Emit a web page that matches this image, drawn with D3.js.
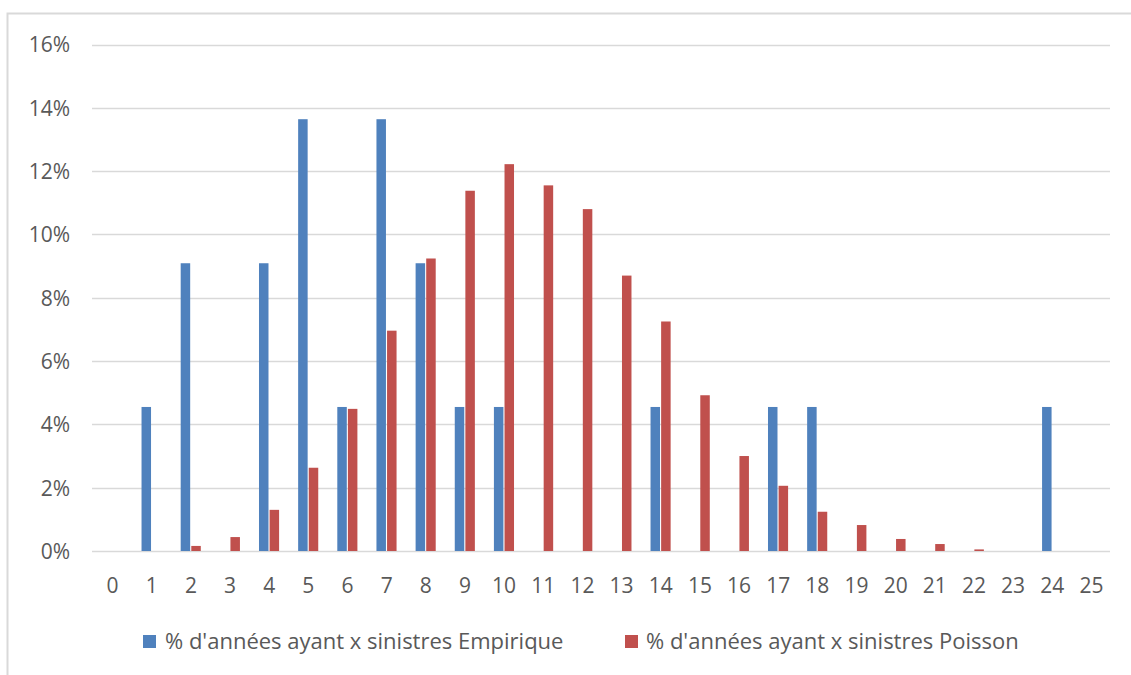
<!DOCTYPE html>
<html>
<head>
<meta charset="utf-8">
<script src="https://cdn.jsdelivr.net/npm/d3@7"></script>
<style>
  html, body { margin: 0; padding: 0; background: #fff; }
  svg { display: block; }
  text { font-family: "Open Sans", "Noto Sans", sans-serif; fill: #595959; }
</style>
</head>
<body>
<svg id="chart" width="1131" height="675"></svg>
<script>
// Number of claims per year (x axis categories)
const categories = d3.range(0, 26);

// % of years with x claims — observed frequencies
const empirique = [0, 4.55, 9.09, 0, 9.09, 13.64, 4.55, 13.64, 9.09, 4.55, 4.55, 0, 0,
                   0, 4.55, 0, 0, 4.55, 4.55, 0, 0, 0, 0, 0, 4.55, 0];

// % of years with x claims — fitted Poisson distribution
const poisson = [0, 0, 0.16, 0.44, 1.30, 2.63, 4.49, 6.96, 9.24, 11.38, 12.22, 11.55, 10.80,
                 8.70, 7.25, 4.92, 3.00, 2.06, 1.24, 0.82, 0.38, 0.22, 0.05, 0, 0, 0];

const yTicks = [0, 2, 4, 6, 8, 10, 12, 14, 16];

const seriesNames = ["% d'années ayant x sinistres Empirique", "% d'années ayant x sinistres Poisson"];
const seriesColors = ["#4f81bd", "#c0504d"];

const svg = d3.select("#chart");

// outer chart frame
svg.append("rect")
  .attr("x", 7.5).attr("y", 13.5)
  .attr("width", 1140).attr("height", 700)
  .attr("fill", "none")
  .attr("stroke", "#d9d9d9")
  .attr("stroke-width", 2);

const plot = { left: 92, right: 1110, top: 44.5, bottom: 551 };

const x = d3.scaleBand()
  .domain(categories)
  .range([plot.left, plot.right])
  .paddingInner(0)
  .paddingOuter(0);

const y = d3.scaleLinear()
  .domain([0, 16])
  .range([plot.bottom, plot.top]);

// horizontal gridlines
svg.append("g")
  .selectAll("line")
  .data(yTicks)
  .join("line")
  .attr("x1", plot.left).attr("x2", plot.right)
  .attr("y1", d => Math.round(y(d)) + 0.5)
  .attr("y2", d => Math.round(y(d)) + 0.5)
  .attr("stroke", "#d9d9d9")
  .attr("stroke-width", 1.3);

// y axis labels
const yAxis = d3.axisLeft(y).tickValues(yTicks).tickSize(0).tickPadding(0)
  .tickFormat(d => d + "%");
svg.append("g")
  .attr("transform", `translate(70,0)`)
  .call(yAxis)
  .call(g => g.select(".domain").remove())
  .call(g => g.selectAll("text")
    .attr("font-size", 21)
    .attr("font-family", "'Open Sans', sans-serif")
    .attr("fill", "#595959")
    .attr("dy", "0.35em"));

// x axis labels
const xAxis = d3.axisBottom(x).tickSize(0).tickPadding(0);
svg.append("g")
  .attr("transform", `translate(1,${plot.bottom})`)
  .call(xAxis)
  .call(g => g.select(".domain").remove())
  .call(g => g.selectAll("text")
    .attr("font-size", 21)
    .attr("font-family", "'Open Sans', sans-serif")
    .attr("fill", "#595959")
    .attr("y", 35)
    .attr("dy", "0.35em"));

// bar sub-positions within each category
const barW = 9.5;
const offsets = [-9.2, 1.4];
const series = [empirique, poisson];

series.forEach((vals, si) => {
  svg.append("g")
    .selectAll("rect")
    .data(categories.map((c, i) => ({ c, v: vals[i] })).filter(d => d.v > 0))
    .join("rect")
    .attr("x", d => x(d.c) + x.bandwidth() / 2 + offsets[si])
    .attr("y", d => y(d.v))
    .attr("width", barW)
    .attr("height", d => y(0) - y(d.v))
    .attr("fill", seriesColors[si]);
});

// legend
const legendItems = [
  { sx: 143, tx: 165 },
  { sx: 625, tx: 646 }
];
const lg = svg.append("g");
legendItems.forEach((p, i) => {
  lg.append("rect")
    .attr("x", p.sx).attr("y", 635)
    .attr("width", 13).attr("height", 13)
    .attr("fill", seriesColors[i]);
  lg.append("text")
    .attr("x", p.tx).attr("y", 641.5)
    .attr("dy", "0.35em")
    .attr("font-size", 22)
    .text(seriesNames[i]);
});
</script>
</body>
</html>
